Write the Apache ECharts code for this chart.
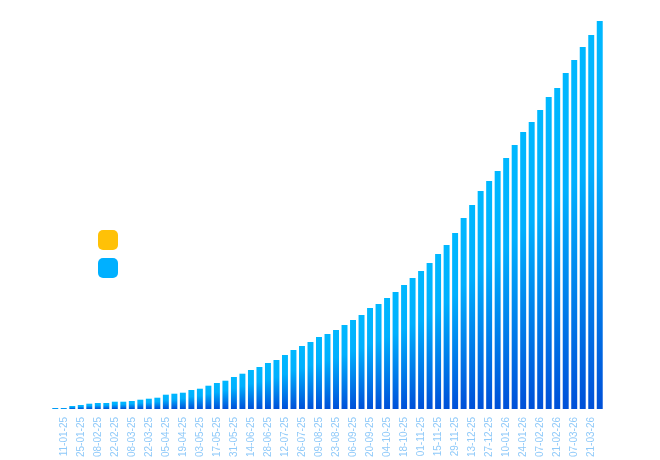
<!DOCTYPE html>
<html>
<head>
<meta charset="utf-8">
<script src="https://cdn.jsdelivr.net/npm/echarts@6/dist/echarts.min.js"></script>
<style>
html,body{margin:0;padding:0;background:#fff;}
#chart{width:660px;height:460px;}
</style>
</head>
<body>
<div id="chart"></div>
<script>
const categories = [
  '04-01-25','11-01-25','18-01-25','25-01-25','01-02-25','08-02-25','15-02-25','22-02-25',
  '01-03-25','08-03-25','15-03-25','22-03-25','29-03-25','05-04-25','12-04-25','19-04-25',
  '26-04-25','03-05-25','10-05-25','17-05-25','24-05-25','31-05-25','07-06-25','14-06-25',
  '21-06-25','28-06-25','05-07-25','12-07-25','19-07-25','26-07-25','02-08-25','09-08-25',
  '16-08-25','23-08-25','30-08-25','06-09-25','13-09-25','20-09-25','27-09-25','04-10-25',
  '11-10-25','18-10-25','25-10-25','01-11-25','08-11-25','15-11-25','22-11-25','29-11-25',
  '06-12-25','13-12-25','20-12-25','27-12-25','03-01-26','10-01-26','17-01-26','24-01-26',
  '31-01-26','07-02-26','14-02-26','21-02-26','28-02-26','07-03-26','14-03-26','21-03-26',
  '28-03-26'
];
const mainValues = [
  1, 1, 3, 4, 5.3, 6, 6, 7.3, 7.3, 8, 9.3, 10.3, 11.3, 14.3, 15.3, 16.3,
  19, 20.3, 23.3, 26, 28.3, 32, 35.3, 39, 42, 46, 49, 54, 59, 63, 67, 72,
  75, 79, 84, 89, 94, 101, 105, 111, 117, 124, 131, 138, 146, 155, 164, 176,
  191, 204, 218, 228, 238, 251, 264, 277, 287, 299, 312, 321, 336, 349, 362, 374,
  388
];
const secondaryValues = [];
const seriesNames = ['Target', 'Actual'];

const chart = echarts.init(document.getElementById('chart'));
chart.setOption({
  animation: false,
  backgroundColor: '#ffffff',
  legend: {
    orient: 'vertical',
    left: 93,
    top: 225,
    itemWidth: 20,
    itemHeight: 20,
    itemGap: 8,
    icon: 'roundRect',
    formatter: function () { return ''; },
    data: [
      { name: seriesNames[0], itemStyle: { color: '#FFC107' } },
      { name: seriesNames[1], itemStyle: { color: '#00B0FF' } }
    ]
  },
  grid: {
    left: 51,
    right: 56,
    top: 9,
    bottom: 51,
    containLabel: false,
    outerBoundsMode: 'none'
  },
  xAxis: {
    type: 'category',
    data: categories,
    boundaryGap: true,
    axisLine: { show: false },
    axisTick: { show: false },
    axisLabel: {
      rotate: 90,
      interval: function (index) { return index % 2 === 1; },
      color: '#90CAF9',
      fontSize: 10,
      margin: 8
    }
  },
  yAxis: {
    type: 'value',
    min: 0,
    max: 400,
    show: false,
    splitLine: { show: false }
  },
  series: [
    {
      name: seriesNames[0],
      type: 'line',
      data: secondaryValues,
      itemStyle: { color: '#FFC107' },
      lineStyle: { color: '#FFC107' }
    },
    {
      name: seriesNames[1],
      type: 'bar',
      data: mainValues,
      barWidth: '70%',
      itemStyle: {
        color: new echarts.graphic.LinearGradient(0, 0, 0, 1, [
          { offset: 0, color: '#00B8FF' },
          { offset: 0.35, color: '#00B0FE' },
          { offset: 1, color: '#0050D8' }
        ])
      }
    }
  ]
});
</script>
</body>
</html>
